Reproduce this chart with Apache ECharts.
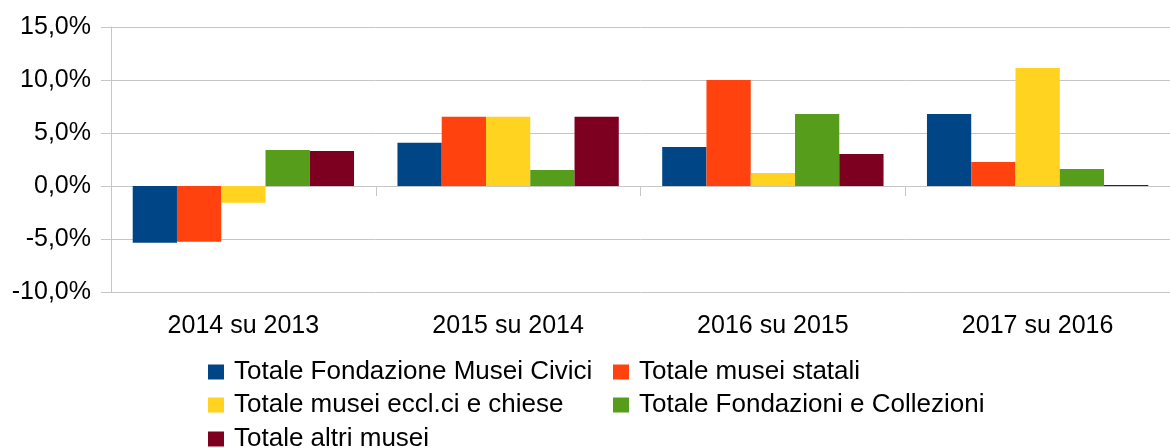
<!DOCTYPE html>
<html>
<head>
<meta charset="utf-8">
<script src="https://cdn.jsdelivr.net/npm/echarts@6/dist/echarts.min.js"></script>
<style>
  html, body { margin: 0; padding: 0; background: #ffffff; }
  #chart { width: 1170px; height: 448px; }
</style>
</head>
<body>
<div id="chart"></div>
<script>
// Year-on-year change in museum visitors, by type of museum (%)
const categories = ['2014 su 2013', '2015 su 2014', '2016 su 2015', '2017 su 2016'];
const seriesNames = [
  'Totale Fondazione Musei Civici',
  'Totale musei statali',
  'Totale musei eccl.ci e chiese',
  'Totale Fondazioni e Collezioni',
  'Totale altri musei'
];
const museiCivici = [-5.35, 4.09, 3.68, 6.79];
const museiStatali = [-5.25, 6.54, 10.0, 2.26];
const museiEcclesiastici = [-1.57, 6.54, 1.23, 11.13];
const fondazioniCollezioni = [3.40, 1.51, 6.79, 1.60];
const altriMusei = [3.30, 6.54, 3.02, 0.10];
const yTicks = [-10, -5, 0, 5, 10, 15];

const values = [museiCivici, museiStatali, museiEcclesiastici, fondazioniCollezioni, altriMusei];
const colors = ['#004586', '#ff420e', '#ffd320', '#579d1c', '#7e0021'];
const FONT = '"Liberation Sans", Arial, sans-serif';
const gridGray = '#c6c6c6';

// legend laid out as a two-column table: [left, top] for each entry
const legendSlots = [[208, 359], [613, 359], [208, 392], [613, 392], [208, 426]];

function legendEntry(i) {
  return {
    orient: 'horizontal',
    left: legendSlots[i][0],
    top: legendSlots[i][1],
    itemWidth: 16,
    itemHeight: 15,
    icon: 'rect',
    selectedMode: false,
    padding: 0,
    textStyle: {
      fontFamily: FONT,
      fontSize: 26,
      color: '#000000',
      lineHeight: 26,
      padding: [0, 0, 0, 5]
    },
    data: [seriesNames[i]]
  };
}

const chart = echarts.init(document.getElementById('chart'), null, { renderer: 'canvas' });

chart.setOption({
  animation: false,
  backgroundColor: '#ffffff',
  color: colors,
  grid: { left: 111, right: -13, top: 27, bottom: 156, containLabel: false },
  legend: seriesNames.map((_, i) => legendEntry(i)),
  xAxis: [
    {
      // axis line and ticks drawn along the zero line
      type: 'category',
      data: categories,
      position: 'bottom',
      axisLine: { onZero: true, lineStyle: { color: gridGray, width: 1 } },
      axisTick: { show: true, length: 10, lineStyle: { color: gridGray } },
      axisLabel: { show: false },
      splitLine: { show: false }
    },
    {
      // category labels under the plot area
      type: 'category',
      data: categories,
      position: 'bottom',
      axisLine: { show: false, onZero: false },
      axisTick: { show: false },
      axisLabel: {
        margin: 22,
        fontFamily: FONT,
        fontSize: 25,
        color: '#000000'
      },
      splitLine: { show: false }
    }
  ],
  yAxis: {
    type: 'value',
    min: yTicks[0],
    max: yTicks[yTicks.length - 1],
    interval: 5,
    axisLine: { show: true, lineStyle: { color: gridGray, width: 1 } },
    axisTick: { show: true, length: 10, lineStyle: { color: gridGray } },
    axisLabel: {
      margin: 20,
      fontFamily: FONT,
      fontSize: 25,
      color: '#000000',
      formatter: v => v.toFixed(1).replace('.', ',') + '%'
    },
    splitLine: { show: true, lineStyle: { color: gridGray, width: 1 } }
  },
  series: seriesNames.map((name, i) => ({
    name: name,
    type: 'bar',
    xAxisIndex: 0,
    data: values[i],
    barGap: '0%',
    barCategoryGap: '16.4%',
    itemStyle: { color: colors[i] }
  }))
});
</script>
</body>
</html>
